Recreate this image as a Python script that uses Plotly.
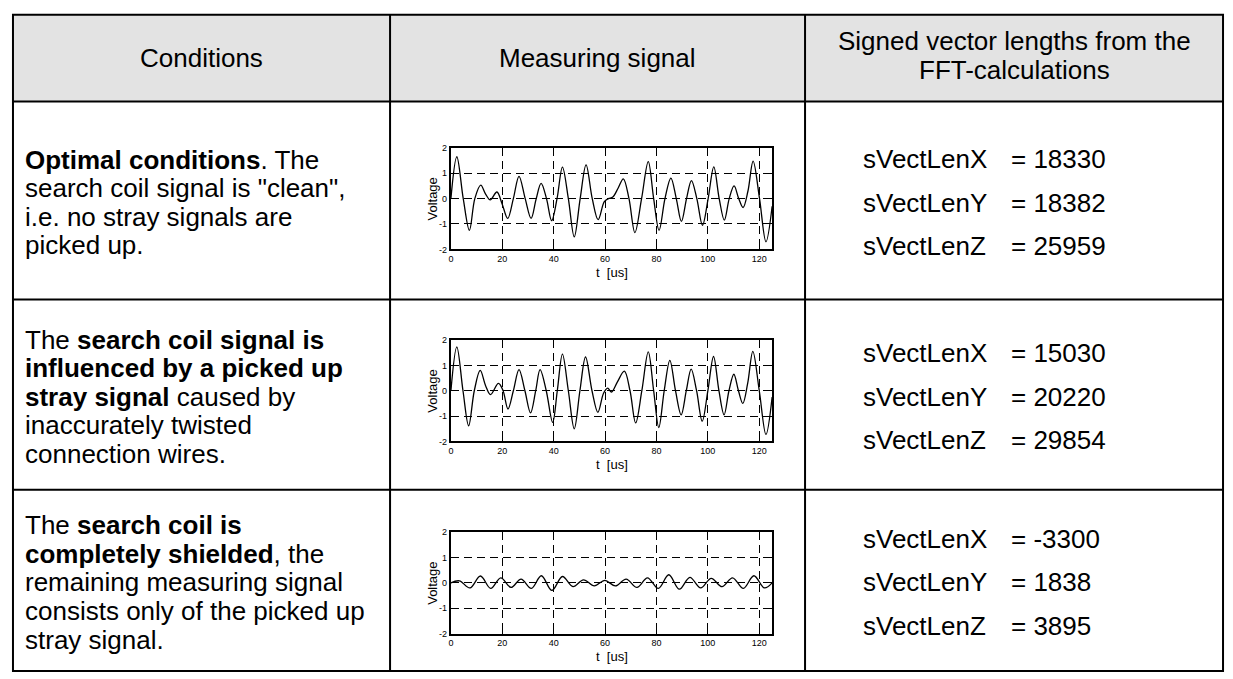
import plotly.graph_objects as go

W, H = 1233, 679

# ---- waveform data: time [us] and voltage [V] ----
t_clean = [0, 2.3, 4.8, 7.2, 9.3, 11.6, 13.5, 15.3, 17.9, 19.9, 22.1, 24.3, 26.5, 28.9,
           31.2, 33.2, 35.1, 37.2, 39.2, 41.3, 43.4, 45.7, 48.0, 50.3, 52.6, 55.0, 57.3,
           59.7, 61.3, 63.0, 65.1, 67.1, 69.3, 71.6, 74.2, 76.8, 78.9, 81.0, 83.3, 85.6,
           87.7, 89.7, 91.7, 93.6, 95.7, 97.9, 100.1, 102.3, 104.4, 106.4, 108.3, 110.2,
           112.0, 113.7, 115.6, 117.6, 120.1, 122.6, 125.0]
v_clean = [0.0, 1.65, 0.0, -1.25, 0.0, 0.53, 0.18, -0.05, 0.26, -0.2, -0.78, 0.0, 0.88, 0.0,
           -0.78, 0.0, 0.6, 0.0, -0.87, 0.0, 1.24, 0.0, -1.51, 0.0, 1.33, 0.0, -0.83,
           -0.12, 0.0, 0.06, 0.42, 0.78, 0.0, -1.34, 0.0, 1.46, 0.0, -1.25, 0.0, 0.81,
           0.0, -0.9, 0.0, 0.71, 0.0, -1.05, 0.0, 1.25, 0.0, -0.85, 0.0, 0.5,
           0.0, -0.35, 0.3, 1.48, 0.0, -1.7, -0.3]

t_stray = [0, 2.3, 4.7, 6.9, 9.1, 11.4, 13.5, 15.4, 18.5, 20.3, 22.2, 24.3, 26.5, 28.8,
           31.0, 33.0, 34.7, 37.1, 39.6, 41.4, 43.4, 45.7, 48.0, 50.2, 52.4, 54.9, 57.2,
           59.4, 61.0, 62.5, 64.8, 67.5, 69.7, 71.9, 74.3, 76.8, 78.9, 80.9, 83.0, 85.2,
           87.4, 89.6, 91.6, 93.5, 95.6, 97.8, 100.0, 102.2, 104.3, 106.3, 108.2, 110.1,
           111.9, 113.6, 115.5, 117.5, 120.0, 122.6, 125.0]
v_stray = [0.0, 1.73, 0.0, -1.38, 0.0, 0.8, 0.2, -0.15, 0.29, 0.0, -0.72, 0.0, 0.83, 0.0,
           -0.87, 0.0, 0.83, 0.0, -1.25, 0.0, 1.44, 0.0, -1.5, 0.0, 1.33, 0.0, -0.85,
           -0.1, 0.1, -0.05, 0.35, 0.77, 0.0, -1.27, 0.0, 1.53, 0.0, -1.45, 0.0, 1.2,
           0.0, -0.95, 0.0, 0.85, 0.0, -1.2, 0.0, 1.35, 0.0, -0.95, 0.0, 0.65,
           0.0, -0.5, 0.3, 1.55, 0.0, -1.72, -0.25]

t_shield = [0, 3.3, 7.4, 11.5, 15.5, 19.4, 23.4, 27.3, 31.3, 35.2, 39.3, 43.4, 47.5, 51.6,
            55.8, 59.9, 64.0, 68.2, 72.4, 76.5, 80.7, 84.8, 88.9, 93.0, 97.2, 101.3,
            105.5, 109.6, 113.8, 117.9, 122.0, 125.0]
v_shield = [0.0, 0.08, -0.2, 0.27, -0.22, 0.2, -0.18, 0.15, -0.22, 0.28, -0.3, 0.25, -0.15,
            0.12, -0.12, 0.1, -0.12, 0.15, -0.18, 0.2, -0.22, 0.32, -0.25, 0.22, -0.2,
            0.18, -0.15, 0.2, -0.22, 0.28, -0.2, 0.0]

x_ticks = [0, 20, 40, 60, 80, 100, 120]
y_ticks = [-2, -1, 0, 1, 2]
y_tick_text = ["-2", "-1", "0", "1", "2"]

# ---- table text ----
headers = ["Conditions", "Measuring signal",
           ["Signed vector lengths from the", "FFT-calculations"]]
conditions = [
    ["<b>Optimal conditions</b>. The",
     "search coil signal is \"clean\",",
     "i.e. no stray signals are",
     "picked up."],
    ["The <b>search coil signal is</b>",
     "<b>influenced by a picked up</b>",
     "<b>stray signal</b> caused by",
     "inaccurately twisted",
     "connection wires."],
    ["The <b>search coil is</b>",
     "<b>completely shielded</b>, the",
     "remaining measuring signal",
     "consists only of the picked up",
     "stray signal."],
]
vec_names = ["sVectLenX", "sVectLenY", "sVectLenZ"]
vec_values = [[18330, 18382, 25959],
              [15030, 20220, 29854],
              [-3300, 1838, 3895]]

# ---- layout geometry (pixels) ----
X_L, X_C1, X_C2, X_R = 10, 388, 804, 1223
Y_ROWS = [10, 98, 299, 492, 676]
PLOT_X = (449, 771)
PLOT_Y = [(145, 248), (340, 443), (535, 638)]
FONT = "'Liberation Sans', Arial, sans-serif"


def fx(x):
    return x / W


def fy(y):
    return 1 - y / H


fig = go.Figure()

signals = [(t_clean, v_clean), (t_stray, v_stray), (t_shield, v_shield)]
for i, (t, v) in enumerate(signals):
    n = "" if i == 0 else str(i + 1)
    fig.add_trace(go.Scatter(
        x=t, y=v, mode="lines", xaxis="x" + n, yaxis="y" + n,
        line=dict(color="black", width=1.3, shape="spline", smoothing=1.0),
        showlegend=False, hoverinfo="skip"))
    y0, y1 = PLOT_Y[i]
    axis_common = dict(
        showline=True, linecolor="black", linewidth=2, mirror="ticks",
        ticks="inside", ticklen=3, tickcolor="black", tickwidth=1,
        showgrid=True, gridcolor="black", gridwidth=1, griddash="8px,5px",
        zeroline=False, tickfont=dict(family=FONT, size=9, color="black"),
    )
    fig.update_layout(**{
        "xaxis" + n: dict(domain=[fx(PLOT_X[0]), fx(PLOT_X[1])], range=[0, 125],
                          anchor="y" + n, tickvals=x_ticks, **axis_common),
        "yaxis" + n: dict(domain=[fy(y1), fy(y0)], range=[-2, 2], anchor="x" + n,
                          tickvals=y_ticks, ticktext=y_tick_text, **axis_common),
    })

shapes = [
    dict(type="rect", xref="paper", yref="paper", x0=fx(X_L), x1=fx(X_R),
         y0=fy(Y_ROWS[1]), y1=fy(Y_ROWS[0]), fillcolor="#e3e3e3",
         line=dict(width=0), layer="below"),
    dict(type="rect", xref="paper", yref="paper", x0=fx(X_L), x1=fx(X_R),
         y0=fy(Y_ROWS[-1]), y1=fy(Y_ROWS[0]), line=dict(color="black", width=2)),
]
for yy in Y_ROWS[1:-1]:
    shapes.append(dict(type="line", xref="paper", yref="paper", x0=fx(X_L), x1=fx(X_R),
                       y0=fy(yy), y1=fy(yy), line=dict(color="black", width=2)))
for xx in (X_C1, X_C2):
    shapes.append(dict(type="line", xref="paper", yref="paper", x0=fx(xx), x1=fx(xx),
                       y0=fy(Y_ROWS[-1]), y1=fy(Y_ROWS[0]), line=dict(color="black", width=2)))

ann = []


def text(x, y, s, size=26, anchor="left", angle=0):
    ann.append(dict(x=fx(x), y=fy(y), xref="paper", yref="paper", text=s,
                    showarrow=False, xanchor=anchor, yanchor="middle", textangle=angle,
                    font=dict(family=FONT, size=size, color="black")))


# header
text((X_L + X_C1) / 2, 54, headers[0], anchor="center")
text((X_C1 + X_C2) / 2, 54, headers[1], anchor="center")
text((X_C2 + X_R) / 2, 37, headers[2][0], anchor="center")
text((X_C2 + X_R) / 2, 66, headers[2][1], anchor="center")

LINE = 29
for r, lines in enumerate(conditions):
    top, bot = Y_ROWS[r + 1], Y_ROWS[r + 2]
    mid = (top + bot) / 2 + 2
    start = mid - LINE * (len(lines) - 1) / 2
    for k, s in enumerate(lines):
        text(20, start + k * LINE, s)
    # vector lengths
    for k in range(3):
        yv = mid + (k - 1) * 44
        text(860, yv, vec_names[k])
        text(1008, yv, "= " + str(vec_values[r][k]))
    # plot labels
    y0, y1 = PLOT_Y[r]
    text(431, (y0 + y1) / 2, "Voltage", size=13, anchor="center", angle=-90)
    text((PLOT_X[0] + PLOT_X[1]) / 2, y1 + 23, "t  [us]", size=13, anchor="center")

fig.update_layout(
    width=W, height=H, autosize=False, margin=dict(l=0, r=0, t=0, b=0),
    paper_bgcolor="white", plot_bgcolor="white",
    shapes=shapes, annotations=ann,
)

fig.write_html("out.html")
